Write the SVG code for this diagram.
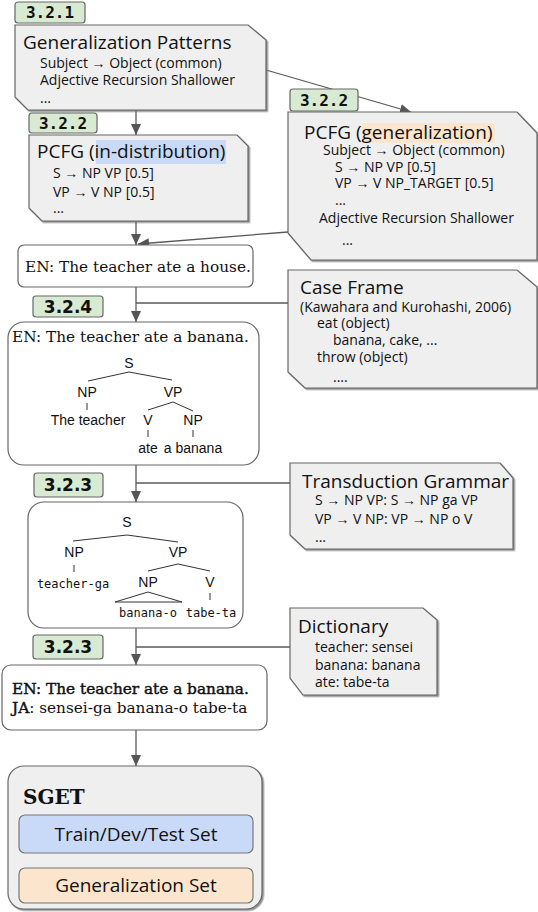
<svg xmlns="http://www.w3.org/2000/svg" width="538" height="912" viewBox="0 0 538 912">
<style>
.snip{fill:#efefef;stroke:#666;stroke-width:1.2;filter:url(#sh)}
.wbox{fill:#fff;stroke:#666;stroke-width:1.2}
.tag{fill:#d9ead3;stroke:#666;stroke-width:1.2}
.tm{font-family:"DejaVu Sans Mono",monospace;font-weight:bold;font-size:16px;fill:#111}
.ts{font-family:"DejaVu Sans",sans-serif;font-weight:bold;font-size:17px;fill:#111}
.ttl{font-family:"Open Sans",sans-serif;font-size:19px;fill:#111}
.sub{font-family:"Open Sans",sans-serif;font-size:14px;fill:#111}
.ser{font-family:"DejaVu Serif",serif;font-size:15.3px;fill:#111}
.tr{font-family:"Liberation Sans",sans-serif;font-size:14px;fill:#111;text-anchor:middle}
.trm{font-family:"DejaVu Sans Mono",monospace;font-size:12px;fill:#111;text-anchor:middle}
.tl{stroke:#333;stroke-width:1;fill:none}
.con{stroke:#595959;stroke-width:1.3;fill:none}
.arr{marker-end:url(#ah)}
</style>
<defs>
<filter id="sh" x="-5%" y="-5%" width="110%" height="115%">
<feDropShadow dx="1.5" dy="1.5" stdDeviation="0.6" flood-color="#777" flood-opacity="0.8"/>
</filter>
<marker id="ah" markerUnits="userSpaceOnUse" markerWidth="12" markerHeight="12" viewBox="0 0 12 12" refX="11" refY="6" orient="auto">
<path d="M0,1 L11,6 L0,11 Z" fill="#555"/>
</marker>
</defs>

<g id="connectors">
<line class="con arr" x1="136" y1="110" x2="136" y2="135"/>
<line class="con arr" x1="266" y1="70" x2="411" y2="112"/>
<line class="con arr" x1="136" y1="221" x2="136" y2="245"/>
<line class="con arr" x1="288" y1="232" x2="138" y2="244"/>
<line class="con arr" x1="136" y1="287" x2="136" y2="322"/>
<line class="con" x1="136" y1="303" x2="288" y2="303"/>
<line class="con arr" x1="136" y1="465" x2="136" y2="502"/>
<line class="con" x1="136" y1="483" x2="290" y2="483"/>
<line class="con arr" x1="136" y1="628" x2="136" y2="665"/>
<line class="con" x1="136" y1="647" x2="290" y2="647"/>
<line class="con arr" x1="136" y1="730" x2="136" y2="766"/>
</g>

<g id="gen-patterns">
<polygon class="snip" points="15,25 248,25 266,40 266,110 28,110 15,97"/>
<text class="ttl" x="23" y="49">Generalization Patterns</text>
<text class="sub" x="40" y="68">Subject → Object (common)</text>
<text class="sub" x="40" y="85">Adjective Recursion Shallower</text>
<text class="sub" x="40" y="103">...</text>
</g>
<g id="tag-321"><rect class="tag" x="15" y="2" width="70" height="21" rx="3"/><text class="tm" x="50" y="18" text-anchor="middle">3.2.1</text></g>

<g id="pcfg-in">
<polygon class="snip" points="29,135 237,135 248,146 248,221 42,221 29,208"/>
<rect x="96" y="140" width="130" height="24" fill="#c9daf8"/>
<text class="ttl" x="37" y="158" font-size="19.5">PCFG (in-distribution)</text>
<text class="sub" x="53" y="178">S → NP VP [0.5]</text>
<text class="sub" x="53" y="197">VP → V NP [0.5]</text>
<text class="sub" x="53" y="213">...</text>
</g>
<g id="tag-322a"><rect class="tag" x="29" y="113" width="68" height="20" rx="3"/><text class="tm" x="63" y="129" text-anchor="middle">3.2.2</text></g>

<g id="pcfg-gen">
<polygon class="snip" points="288,112 517,112 537,133 537,260 311,260 288,233"/>
<rect x="362" y="123" width="133" height="20" fill="#fce5cd"/>
<text class="ttl" x="304" y="139" font-size="19.5">PCFG (generalization)</text>
<text class="sub" x="323" y="155">Subject → Object (common)</text>
<text class="sub" x="335" y="172">S → NP VP [0.5]</text>
<text class="sub" x="335" y="188">VP → V NP_TARGET  [0.5]</text>
<text class="sub" x="335" y="205">...</text>
<text class="sub" x="319" y="223">Adjective Recursion Shallower</text>
<text class="sub" x="342" y="245">...</text>
</g>
<g id="tag-322b"><rect class="tag" x="290" y="89" width="68" height="22" rx="3"/><text class="tm" x="324" y="106" text-anchor="middle">3.2.2</text></g>

<g id="en-house">
<rect class="wbox" x="18" y="245" width="235" height="42" rx="6"/>
<text class="ser" x="25" y="272" font-size="14.7">EN: The teacher ate a house.</text>
</g>

<g id="case-frame">
<polygon class="snip" points="288,270 517,270 537,287 537,388 305,388 288,372"/>
<text class="ttl" x="300" y="294">Case Frame</text>
<text class="sub" x="300" y="312">(Kawahara and Kurohashi, 2006)</text>
<text class="sub" x="317" y="328">eat (object)</text>
<text class="sub" x="333" y="345">banana, cake, ...</text>
<text class="sub" x="317" y="362">throw (object)</text>
<text class="sub" x="333" y="382">....</text>
</g>
<g id="tag-324"><rect class="tag" x="33" y="296" width="70" height="21" rx="3"/><text class="ts" x="68" y="313" text-anchor="middle">3.2.4</text></g>

<g id="en-tree">
<rect class="wbox" x="8" y="322" width="251" height="143" rx="16"/>
<text class="ser" x="12" y="342">EN: The teacher ate a banana.</text>
<text class="tr" x="129" y="368">S</text>
<polyline class="tl" points="88,381 129,372 172,380"/>
<text class="tr" x="87" y="397">NP</text>
<text class="tr" x="173" y="397">VP</text>
<line class="tl" x1="87" y1="403" x2="87" y2="410"/>
<text class="tr" x="88" y="425">The teacher</text>
<polyline class="tl" points="148,410 173,402 193,411"/>
<text class="tr" x="148" y="425">V</text>
<text class="tr" x="193" y="425">NP</text>
<line class="tl" x1="148" y1="430" x2="148" y2="437"/>
<line class="tl" x1="193" y1="430" x2="193" y2="437"/>
<text class="tr" x="148" y="453">ate</text>
<text class="tr" x="193" y="453">a banana</text>
</g>

<g id="transduction">
<polygon class="snip" points="290,463 500,463 513,478 513,549 305,549 290,535"/>
<text class="ttl" x="302" y="488" font-size="18.6">Transduction Grammar</text>
<text class="sub" x="315" y="505">S → NP VP: S → NP ga VP</text>
<text class="sub" x="315" y="524">VP → V NP: VP → NP o V</text>
<text class="sub" x="315" y="542">...</text>
</g>
<g id="tag-323a"><rect class="tag" x="34" y="473" width="69" height="24" rx="3"/><text class="ts" x="68" y="491" text-anchor="middle">3.2.3</text></g>

<g id="ja-tree">
<rect class="wbox" x="28" y="502" width="215" height="126" rx="16"/>
<text class="tr" x="127" y="527">S</text>
<polyline class="tl" points="73,541 127,535 178,542"/>
<text class="tr" x="74" y="557">NP</text>
<text class="tr" x="178" y="557">VP</text>
<line class="tl" x1="74" y1="565" x2="74" y2="572"/>
<text class="trm" x="73" y="588">teacher-ga</text>
<polyline class="tl" points="148,571 178,564 210,571"/>
<text class="tr" x="148" y="587">NP</text>
<text class="tr" x="210" y="587">V</text>
<polygon class="tl" points="115,602 148,592 182,602"/>
<line class="tl" x1="210" y1="593" x2="210" y2="600"/>
<text class="trm" x="148" y="617">banana-o</text>
<text class="trm" x="211" y="617">tabe-ta</text>
</g>

<g id="dictionary">
<polygon class="snip" points="290,608 423,608 437,620 437,695 303,695 290,678"/>
<text class="ttl" x="298" y="633">Dictionary</text>
<text class="sub" x="315" y="652">teacher: sensei</text>
<text class="sub" x="315" y="670">banana: banana</text>
<text class="sub" x="315" y="687">ate: tabe-ta</text>
</g>
<g id="tag-323b"><rect class="tag" x="33" y="635" width="70" height="24" rx="3"/><text class="ts" x="68" y="653" text-anchor="middle">3.2.3</text></g>

<g id="en-ja">
<rect class="wbox" x="2" y="665" width="265" height="65" rx="9"/>
<text class="ser" x="12" y="694" font-size="15" stroke="#111" stroke-width="0.45">EN: The teacher ate a banana.</text>
<text class="ser" x="12" y="713" font-size="15"><tspan stroke="#111" stroke-width="0.45">JA</tspan>: sensei-ga banana-o tabe-ta</text>
</g>

<g id="sget">
<rect x="8" y="766" width="254" height="143" rx="16" fill="#efefef" stroke="#666" stroke-width="1.2" filter="url(#sh)"/>
<text x="23" y="804" font-family="DejaVu Serif, serif" font-weight="bold" font-size="20" fill="#111">SGET</text>
<rect x="19" y="815" width="234" height="38" rx="6" fill="#c9daf8" stroke="#777" stroke-width="1.2"/>
<text class="ttl" x="136" y="841" text-anchor="middle" font-size="18">Train/Dev/Test Set</text>
<rect x="19" y="868" width="234" height="35" rx="6" fill="#fce5cd" stroke="#777" stroke-width="1.2"/>
<text class="ttl" x="136" y="892" text-anchor="middle" font-size="18">Generalization Set</text>
</g>
</svg>
